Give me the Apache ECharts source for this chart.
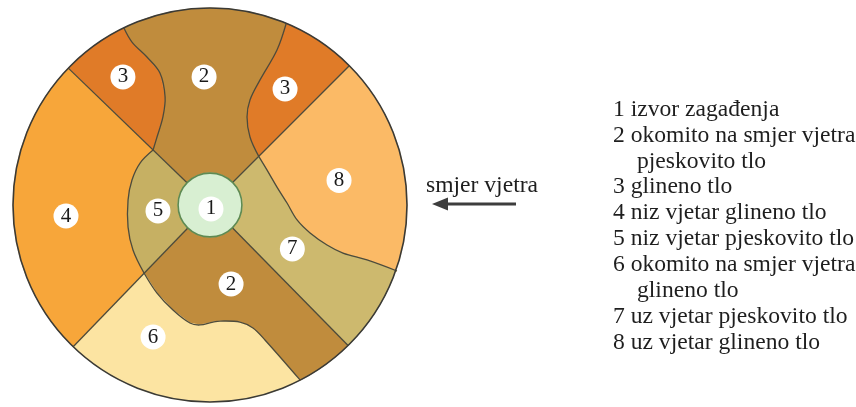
<!DOCTYPE html>
<html>
<head>
<meta charset="utf-8">
<script src="https://cdn.jsdelivr.net/npm/echarts@6/dist/echarts.min.js"></script>
<style>
html,body{margin:0;padding:0;background:#fff;}
#chart{width:856px;height:407px;}
</style>
</head>
<body>
<div id="chart"></div>
<script>
// ---- Diagram data (units: outer circle radius = 100, well at origin, y up) ----
const outerRadius = 100;
const wellRadius = 16.2;
// radial boundary directions (degrees): NW, NE, SW, SE
const rayAngles = [136, 45, 226, -45.5];

// boundary between left zone 3 and upper zone 2 (outer edge -> NW junction)
const curveLeft3 = [[-43.7,89.8],[-39.6,82.7],[-32.0,75.1],[-25.4,67.0],[-22.8,54.8],[-23.9,44.7],[-26.9,34.5],[-28.9,27.9]];
// outer edge of zone 5 (NW junction -> SW junction)
const curveZone5 = [[-28.9,27.9],[-35.5,21.3],[-39.6,12.7],[-41.6,2.5],[-41.6,-11.2],[-39.1,-22.8],[-33.5,-34.5]];
// boundary between lower zone 2 and zone 6 (SW junction -> outer edge)
const curveLower2 = [[-33.5,-34.5],[-26.9,-44.7],[-18.8,-53.3],[-10.2,-59.9],[-5.1,-60.9],[1.5,-59.4],[5.1,-58.9],[15.2,-59.4],[21.8,-62.4],[27.9,-68.5],[45.7,-88.8]];
// boundary between right zone 3 and upper zone 2 (outer edge -> NE junction)
const curveRight3 = [[38.6,91.9],[34.0,78.7],[25.4,63.5],[20.3,53.3],[18.8,44.7],[20.3,34.5],[24.9,24.4]];
// boundary between zone 7 and zone 8 (NE junction -> outer edge)
const curve7to8 = [[24.9,24.4],[28.9,17.8],[34.0,9.1],[39.1,1.0],[44.2,-7.6],[50.8,-14.2],[59.4,-20.3],[67.5,-24.4],[79.7,-27.9],[94.9,-33.5]];

// zone fill colours
const zoneNames = ['2','3','3','8','7','2','6','4','5','1'];
const zoneColors = ['#C08C3D','#E07B28','#E07B28','#FBBA66','#CDB96E','#C08C3D','#FCE4A2','#F7A63A','#C6B063','#D8EFD2'];

// number badges
const badgeText = ['1','2','3','3','8','5','4','7','2','6'];
const badgeX = [0.5, -3.0, -44.2, 38.1, 65.5, -26.4, -73.1, 41.8, 10.7, -28.9];
const badgeY = [-2.0, 65.0, 65.0, 58.9, 12.5, -3.0, -5.6, -22.3, -40.1, -67.0];

// legend
const legendLines = ['1 izvor zagađenja','2 okomito na smjer vjetra','pjeskovito tlo','3 glineno tlo','4 niz vjetar glineno tlo','5 niz vjetar pjeskovito tlo','6 okomito na smjer vjetra','glineno tlo','7 uz vjetar pjeskovito tlo','8 uz vjetar glineno tlo'];
const legendIndent = [false,false,true,false,false,false,false,true,false,false];
const windLabel = 'smjer vjetra';

// ---- geometry helpers ----
function ang(p){ return Math.atan2(p[1], p[0]) * 180 / Math.PI; }
function pol(r, a){ const t = a * Math.PI / 180; return [r * Math.cos(t), r * Math.sin(t)]; }
function arc(r, a1, a2){
  const n = Math.max(2, Math.ceil(Math.abs(a2 - a1) / 1.5));
  const pts = [];
  for (let i = 0; i <= n; i++) pts.push(pol(r, a1 + (a2 - a1) * i / n));
  return pts;
}
const rev = a => a.slice().reverse();
const R = outerRadius, r0 = wellRadius;
const [NW, NE, SW, SE] = rayAngles;
const SWn = SW - 360;
const aL3 = ang(curveLeft3[0]);
const aR3 = ang(curveRight3[0]);
const a78 = ang(curve7to8[curve7to8.length - 1]);
const aL2 = ang(curveLower2[curveLower2.length - 1]);

const zonePolys = [
  [...arc(r0, NE, NW), ...rev(curveLeft3), ...arc(R, aL3, aR3), ...curveRight3],          // 2 top
  [...arc(R, NW, aL3), ...curveLeft3],                                                     // 3 left
  [...arc(R, aR3, NE), ...rev(curveRight3)],                                               // 3 right
  [...arc(R, NE, a78), ...rev(curve7to8)],                                                 // 8
  [...arc(r0, NE, SE), ...arc(R, SE, a78), ...rev(curve7to8)],                             // 7
  [...arc(r0, SE, SWn), ...curveLower2, ...arc(R, aL2, SE)],                               // 2 bottom
  [pol(R, SWn), ...curveLower2, ...arc(R, aL2, SWn)],                                      // 6
  [...arc(R, NW, SW), ...rev(curveZone5)],                                                 // 4
  [...arc(r0, NW, SW), ...rev(curveZone5)],                                                // 5
  arc(r0, 0, 360)                                                                          // 1 well
];

const borderLines = [
  {pts: curveLeft3, smooth: true},
  {pts: curveZone5, smooth: true},
  {pts: curveLower2, smooth: true},
  {pts: curveRight3, smooth: true},
  {pts: curve7to8, smooth: true},
  {pts: [pol(r0, NW), pol(R, NW)], smooth: false},
  {pts: [pol(r0, NE), pol(R, NE)], smooth: false},
  {pts: [pol(r0, SW), pol(R, SW)], smooth: false},
  {pts: [pol(r0, SE), pol(R, SE)], smooth: false}
];

// ---- chart ----
const chart = echarts.init(document.getElementById('chart'), null, {renderer: 'canvas'});
const pxPerUnit = 1.97, cx = 210, cy = 205;
const legendFont = '23.6px "Liberation Serif", "Times New Roman", serif';

const legendGraphics = legendLines.map((t, i) => ({
  type: 'text',
  x: legendIndent[i] ? 637 : 613,
  y: 109.5 + i * 25.9,
  style: {
    text: t, fill: '#1e1e1e',
    font: legendFont,
    verticalAlign: 'middle', textVerticalAlign: 'middle'
  },
  silent: true
}));

chart.setOption({
  backgroundColor: '#ffffff',
  animation: false,
  grid: {left: 0, right: 0, top: 0, bottom: 0},
  xAxis: {type: 'value', min: -cx / pxPerUnit, max: (856 - cx) / pxPerUnit, show: false},
  yAxis: {type: 'value', min: -(407 - cy) / pxPerUnit, max: cy / pxPerUnit, show: false},
  graphic: [
    ...legendGraphics,
    {type: 'text', x: 426, y: 186, silent: true,
     style: {text: windLabel, fill: '#1e1e1e', font: legendFont,
             verticalAlign: 'middle', textVerticalAlign: 'middle'}},
    {type: 'line', silent: true, shape: {x1: 445, y1: 204, x2: 516, y2: 204},
     style: {stroke: '#3d3d3d', lineWidth: 3}},
    {type: 'polygon', silent: true, shape: {points: [[432, 204], [448, 197.5], [448, 210.5]]},
     style: {fill: '#3d3d3d'}}
  ],
  series: [
    {
      type: 'custom', name: 'zones', silent: true,
      data: zoneNames.map((n, i) => [i]),
      renderItem: function (params, api) {
        const i = params.dataIndex;
        const pts = zonePolys[i].map(p => api.coord(p));
        return {
          type: 'polygon',
          shape: {points: pts},
          style: {fill: zoneColors[i], stroke: zoneColors[i], lineWidth: 0.6}
        };
      }
    },
    {
      type: 'custom', name: 'borders', silent: true,
      data: borderLines.map((b, i) => [i]),
      renderItem: function (params, api) {
        const b = borderLines[params.dataIndex];
        return {
          type: 'polyline',
          shape: {points: b.pts.map(p => api.coord(p)), smooth: b.smooth ? 0.35 : 0},
          style: {stroke: '#4d4b3b', lineWidth: 1.3, fill: null}
        };
      }
    },
    {
      type: 'custom', name: 'rims', silent: true,
      data: [[0], [1]],
      renderItem: function (params, api) {
        const c = api.coord([0, 0]);
        const e = api.coord([outerRadius, 0]);
        const w = api.coord([wellRadius, 0]);
        if (params.dataIndex === 0) {
          return {type: 'circle', shape: {cx: c[0], cy: c[1], r: e[0] - c[0]},
                  style: {fill: null, stroke: '#3a3a36', lineWidth: 1.6}};
        }
        return {type: 'circle', shape: {cx: c[0], cy: c[1], r: w[0] - c[0]},
                style: {fill: null, stroke: '#5e8a52', lineWidth: 1.6}};
      }
    },
    {
      type: 'scatter', name: 'badges', silent: true,
      symbol: 'circle', symbolSize: 25,
      itemStyle: {color: '#ffffff', opacity: 1},
      data: badgeX.map((x, i) => [x, badgeY[i]]),
      label: {
        show: true, position: 'inside',
        formatter: p => badgeText[p.dataIndex],
        color: '#1a1a1a', fontSize: 21,
        fontFamily: '"Liberation Serif", "Times New Roman", serif'
      }
    }
  ]
});
</script>
</body>
</html>
